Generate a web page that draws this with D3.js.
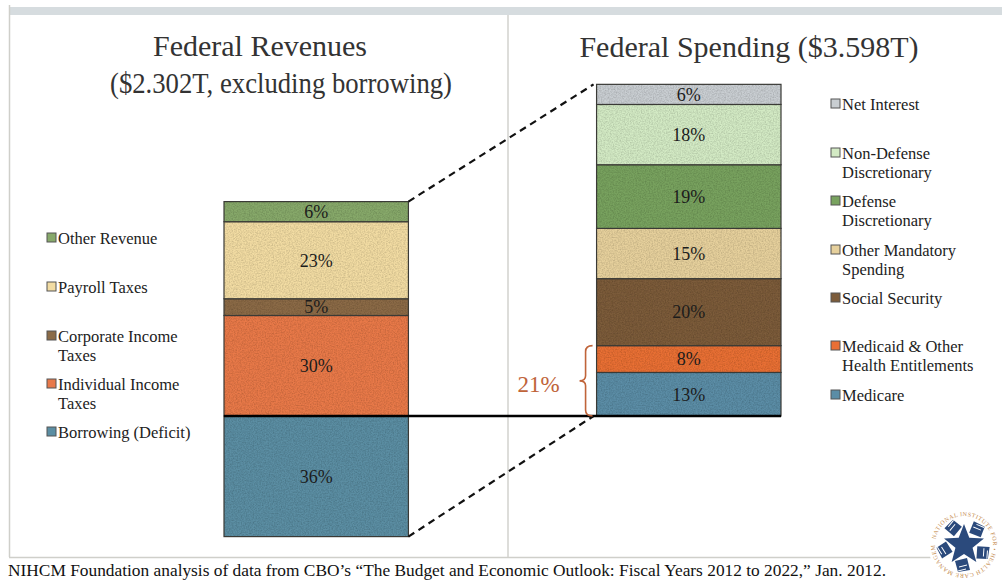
<!DOCTYPE html>
<html>
<head>
<meta charset="utf-8">
<script src="https://cdn.jsdelivr.net/npm/d3@7"></script>
<style>
  html, body { margin: 0; padding: 0; background: #fff; }
  svg { display: block; }
  text { font-family: "Liberation Serif", "Times New Roman", serif; }
</style>
</head>
<body>
<svg id="chart" width="1002" height="582"></svg>
<script>
// Shares of federal spending, FY2012 (CBO, Jan. 2012)
const revenueCategories = ["Borrowing (Deficit)", "Individual Income Taxes", "Corporate Income Taxes", "Payroll Taxes", "Other Revenue"];
const revenueValues = [36, 30, 5, 23, 6];
const revenueColors = ["#5b8ea3", "#e8794a", "#8b6b47", "#f2dca3", "#87a96b"];

const spendingCategories = ["Medicare", "Medicaid & Other Health Entitlements", "Social Security", "Other Mandatory Spending", "Defense Discretionary", "Non-Defense Discretionary", "Net Interest"];
const spendingValues = [13, 8, 20, 15, 19, 18, 6];
const spendingColors = ["#5b8da6", "#e86f35", "#7c5c3b", "#e6d09c", "#78a25f", "#d3eac4", "#c9ced2"];

// Legend wording (line breaks as set)
const revenueLegendLines = [["Borrowing (Deficit)"], ["Individual Income", "Taxes"], ["Corporate Income", "Taxes"], ["Payroll Taxes"], ["Other Revenue"]];
const spendingLegendLines = [["Medicare"], ["Medicaid & Other", "Health Entitlements"], ["Social Security"], ["Other Mandatory", "Spending"], ["Defense", "Discretionary"], ["Non-Defense", "Discretionary"], ["Net Interest"]];

const healthCategories = ["Medicare", "Medicaid & Other Health Entitlements"];

const titleRevenue = ["Federal Revenues", "($2.302T, excluding borrowing)"];
const titleSpending = "Federal Spending ($3.598T)";
const sourceNote = "NIHCM Foundation analysis of data from CBO\u2019s \u201cThe Budget and Economic Outlook: Fiscal Years 2012 to 2022,\u201d Jan. 2012.";

const svg = d3.select("#chart");
const W = 1002, H = 582;

// paper grain for the bar fills
const defs = svg.append("defs");
const grain = defs.append("filter").attr("id", "grain").attr("x", 0).attr("y", 0).attr("width", 1).attr("height", 1);
grain.append("feTurbulence").attr("type", "fractalNoise").attr("baseFrequency", 0.75).attr("numOctaves", 3).attr("seed", 7).attr("result", "noise");
grain.append("feColorMatrix").attr("in", "noise").attr("type", "matrix")
  .attr("values", "0 0 0 0 0  0 0 0 0 0  0 0 0 0 0  0 0 0 0.6 -0.2").attr("result", "speck");
grain.append("feComposite").attr("in", "speck").attr("in2", "SourceGraphic").attr("operator", "in").attr("result", "clipped");
const merge = grain.append("feMerge");
merge.append("feMergeNode").attr("in", "SourceGraphic");
merge.append("feMergeNode").attr("in", "clipped");

// frame: top band, left rule, bottom rule, centre divider
svg.append("rect").attr("x", 9).attr("y", 7).attr("width", W - 9).attr("height", 8).attr("fill", "#d6dcdf");
svg.append("line").attr("x1", 9.5).attr("x2", 9.5).attr("y1", 5).attr("y2", 557).attr("stroke", "#cfcfca").attr("stroke-width", 1.5);
svg.append("line").attr("x1", 9).attr("x2", 996).attr("y1", 557.5).attr("y2", 557.5).attr("stroke", "#cfcfca").attr("stroke-width", 1.5);
svg.append("line").attr("x1", 508).attr("x2", 508).attr("y1", 15).attr("y2", 557).attr("stroke", "#d2d2ce").attr("stroke-width", 1.5);

// scales
const x = d3.scaleBand().domain(["revenue", "spending"]).range([224, 781]).paddingInner(0.505);
const y = d3.scaleLinear().domain([0, 100]).range([416, 81]);

function stackFrom(values, start) {
  let acc = start;
  return values.map(v => { const s = acc; acc += v; return [s, acc]; });
}
const revenueStack = stackFrom(revenueValues, -revenueValues[0]);
const spendingStack = stackFrom(spendingValues, 0);

function drawBar(key, cats, values, stack, colors) {
  const g = svg.append("g");
  const seg = g.selectAll("g").data(cats.map((c, i) => ({ c, v: values[i], s: stack[i], col: colors[i] }))).join("g");
  seg.append("rect")
    .attr("x", x(key)).attr("width", x.bandwidth())
    .attr("y", d => y(d.s[1])).attr("height", d => y(d.s[0]) - y(d.s[1]))
    .attr("fill", d => d.col).attr("filter", "url(#grain)");
  seg.append("rect")
    .attr("x", x(key)).attr("width", x.bandwidth())
    .attr("y", d => y(d.s[1])).attr("height", d => y(d.s[0]) - y(d.s[1]))
    .attr("fill", "none").attr("stroke", "#3a3a36").attr("stroke-width", 1.2);
  seg.append("text")
    .attr("x", x(key) + x.bandwidth() / 2)
    .attr("y", d => (y(d.s[0]) + y(d.s[1])) / 2)
    .attr("dy", "0.35em").attr("text-anchor", "middle")
    .attr("font-size", 18).attr("fill", "#1c1c1c")
    .text(d => d.v + "%");
}
drawBar("revenue", revenueCategories, revenueValues, revenueStack, revenueColors);
drawBar("spending", spendingCategories, spendingValues, spendingStack, spendingColors);

// dashed connectors from the revenue bar to the spending bar
const revTop = revenueStack[revenueStack.length - 1][1];
const revBottom = revenueStack[0][0];
const spTop = spendingStack[spendingStack.length - 1][1];
const connectors = [[revTop, spTop], [revBottom, 0]];
svg.append("g").selectAll("line").data(connectors).join("line")
  .attr("x1", x("revenue") + x.bandwidth()).attr("y1", d => y(d[0]))
  .attr("x2", x("spending") - 3).attr("y2", d => y(d[1]))
  .attr("stroke", "#111").attr("stroke-width", 2.2).attr("stroke-dasharray", "7,5");

// baseline (zero) across both bars
svg.append("line")
  .attr("x1", x("revenue")).attr("x2", x("spending") + x.bandwidth())
  .attr("y1", y(0)).attr("y2", y(0))
  .attr("stroke", "#000").attr("stroke-width", 2.5);

// health-care brace
const hIdx = healthCategories.map(c => spendingCategories.indexOf(c));
const hLow = d3.min(hIdx, i => spendingStack[i][0]);
const hHigh = d3.max(hIdx, i => spendingStack[i][1]);
const hShare = d3.sum(hIdx, i => spendingValues[i]);
const bx = x("spending") - 4, by0 = y(hHigh), by1 = y(hLow), bm = (by0 + by1) / 2;
const braceColor = "#c0643a";
svg.append("path")
  .attr("d", `M${bx},${by0} Q${bx - 7},${by0} ${bx - 7},${by0 + 6} L${bx - 7},${bm - 5} Q${bx - 7},${bm} ${bx - 13},${bm} Q${bx - 7},${bm} ${bx - 7},${bm + 5} L${bx - 7},${by1 - 6} Q${bx - 7},${by1} ${bx},${by1}`)
  .attr("fill", "none").attr("stroke", braceColor).attr("stroke-width", 1.6);
svg.append("text")
  .attr("x", bx - 54).attr("y", bm + 3).attr("dy", "0.35em").attr("text-anchor", "middle")
  .attr("font-size", 23).attr("fill", braceColor)
  .text(hShare + "%");

// legends
function drawLegend(lines, colors, x0, rowsY) {
  const g = svg.append("g");
  lines.forEach((ls, i) => {
    const yy = rowsY[i];
    g.append("rect").attr("x", x0).attr("y", yy - 5).attr("width", 9).attr("height", 9)
      .attr("fill", colors[i]).attr("stroke", "#555").attr("stroke-width", 1);
    ls.forEach((t, j) => {
      g.append("text").attr("x", x0 + 11).attr("y", yy + j * 19).attr("dy", "0.35em")
        .attr("font-size", 16.5).attr("fill", "#222").text(t);
    });
  });
}
drawLegend(revenueLegendLines, revenueColors, 47, [432, 384, 336, 287, 238]);
drawLegend(spendingLegendLines, spendingColors, 831, [395, 346, 298, 250, 201, 153, 104]);

// titles
svg.append("text").attr("x", 260).attr("y", 56).attr("text-anchor", "middle")
  .attr("font-size", 30).attr("fill", "#333").text(titleRevenue[0]);
svg.append("text").attr("x", 281).attr("y", 93).attr("text-anchor", "middle")
  .attr("font-size", 30).attr("fill", "#333")
  .attr("textLength", 342).attr("lengthAdjust", "spacingAndGlyphs").text(titleRevenue[1]);
svg.append("text").attr("x", 749).attr("y", 57).attr("text-anchor", "middle")
  .attr("font-size", 30).attr("fill", "#333").text(titleSpending);

// source note
svg.append("text").attr("x", 8).attr("y", 576).attr("font-size", 17).attr("fill", "#111")
  .attr("textLength", 878).attr("lengthAdjust", "spacingAndGlyphs")
  .text(sourceNote);

// NIHCM emblem, lower right
const logo = svg.append("g").attr("transform", "translate(964,545)");
logo.append("circle").attr("r", 36).attr("fill", "#fff");
const navy = "#2b4a7c";
const star = d3.range(10).map(i => {
  const a = -Math.PI / 2 + i * Math.PI / 5;
  const r = i % 2 === 0 ? 21 : 9;
  return [r * Math.cos(a), r * Math.sin(a)];
});
for (let k = 0; k < 5; k++) {
  const h = logo.append("g").attr("transform", `rotate(${k * 72 + 36})`);
  h.append("path").attr("d", "M-3,-13 L-6,-25 L6,-27 L9,-16 Z").attr("fill", navy);
  h.append("path").attr("d", "M-3,-20 L5,-22 M-2,-24 L6,-26").attr("stroke", "#fff").attr("stroke-width", 1);
}
logo.append("polygon").attr("points", star.map(p => p.join(",")).join(" ")).attr("fill", navy);
defs.append("path").attr("id", "ring").attr("d", "M-29,0 A29,29 0 1,1 29,0 A29,29 0 1,1 -29,0");
logo.append("text").attr("font-size", 6).attr("fill", "#c48a4c").attr("letter-spacing", 0.5)
  .append("textPath").attr("href", "#ring").attr("startOffset", "3%")
  .text("NATIONAL INSTITUTE FOR \u2022 HEALTH CARE MANAGEMENT \u2022");
</script>
</body>
</html>
